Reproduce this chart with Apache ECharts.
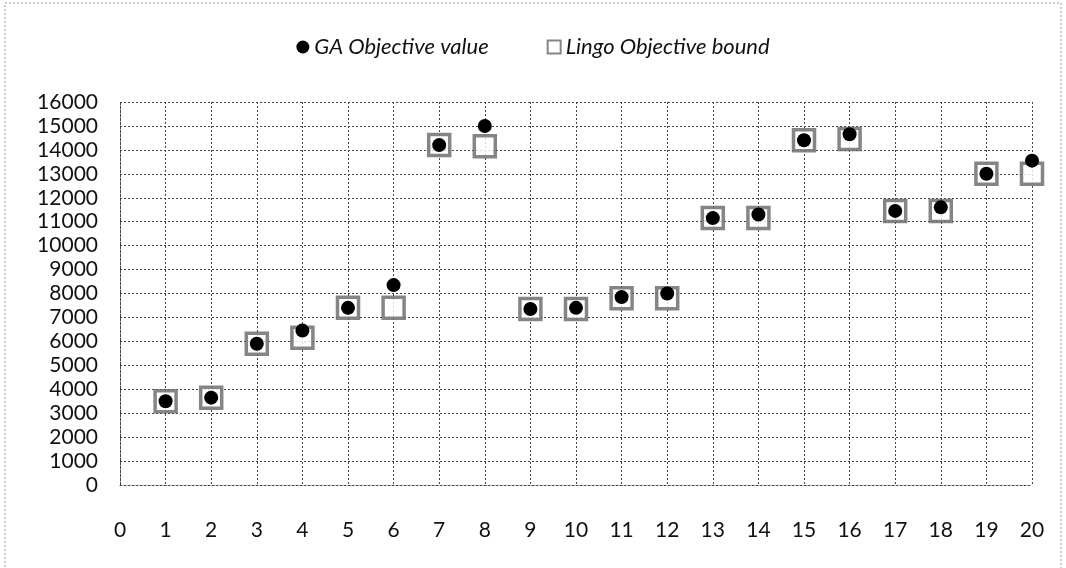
<!DOCTYPE html>
<html>
<head>
<meta charset="utf-8">
<script src="https://cdn.jsdelivr.net/npm/echarts@6/dist/echarts.min.js"></script>
<style>
  html, body { margin: 0; padding: 0; background: #fff; }
  #chart { width: 1066px; height: 568px; }
</style>
</head>
<body>
<div id="chart"></div>
<script>
// instances 1..20
const instances = [1, 2, 3, 4, 5, 6, 7, 8, 9, 10, 11, 12, 13, 14, 15, 16, 17, 18, 19, 20];
// GA objective value (dots)
const gaValues = [3500, 3650, 5900, 6450, 7400, 8350, 14200, 15000, 7350, 7400,
                  7850, 8000, 11150, 11300, 14400, 14650, 11450, 11600, 13000, 13550];
// Lingo objective bound (squares)
const lingoBounds = [3500, 3650, 5900, 6150, 7400, 7400, 14200, 14150, 7350, 7350,
                     7800, 7800, 11150, 11150, 14400, 14450, 11450, 11450, 13000, 13000];

const gaName = 'GA Objective value';
const lingoName = 'Lingo Objective bound';

const chart = echarts.init(document.getElementById('chart'));

const font = 'Lato, "Open Sans", sans-serif';
const gridLine = { show: true, lineStyle: { color: '#444', type: [2, 2], width: 1 } };

chart.setOption({
  animation: false,
  textStyle: { fontFamily: font },
  graphic: [{
    type: 'rect',
    shape: { x: 5, y: 3, width: 1056, height: 580 },
    style: { fill: null, stroke: '#999', lineWidth: 1, lineDash: [2, 2] }
  }],
  legend: {
    data: [
      { name: gaName, icon: 'circle' },
      { name: lingoName, icon: 'rect' }
    ],
    top: 31,
    left: 'center',
    itemWidth: 13,
    itemHeight: 13,
    itemGap: 58,
    textStyle: { fontFamily: font, fontSize: 22, fontStyle: 'italic', color: '#111' }
  },
  grid: { left: 120, right: 34, top: 102, bottom: 83 },
  xAxis: {
    type: 'value',
    min: 0,
    max: 20,
    interval: 1,
    axisLine: { show: true, lineStyle: { color: '#444', type: [2, 2] } },
    axisTick: { show: false },
    splitLine: gridLine,
    axisLabel: { fontSize: 21, color: '#111', margin: 35, fontFamily: font }
  },
  yAxis: {
    type: 'value',
    min: 0,
    max: 16000,
    interval: 1000,
    axisLine: { show: true, lineStyle: { color: '#444', type: [2, 2] } },
    axisTick: { show: false },
    splitLine: gridLine,
    axisLabel: { fontSize: 21, color: '#111', margin: 22, fontFamily: font, formatter: v => String(v) }
  },
  series: [
    {
      name: lingoName,
      type: 'scatter',
      symbol: 'rect',
      symbolSize: 21,
      data: instances.map((x, i) => [x, lingoBounds[i]]),
      itemStyle: { color: '#fff', borderColor: '#666', borderWidth: 3.5 },
      z: 2
    },
    {
      name: gaName,
      type: 'scatter',
      symbol: 'circle',
      symbolSize: 14,
      data: instances.map((x, i) => [x, gaValues[i]]),
      itemStyle: { color: '#000', opacity: 1 },
      z: 3
    }
  ]
});
</script>
</body>
</html>
